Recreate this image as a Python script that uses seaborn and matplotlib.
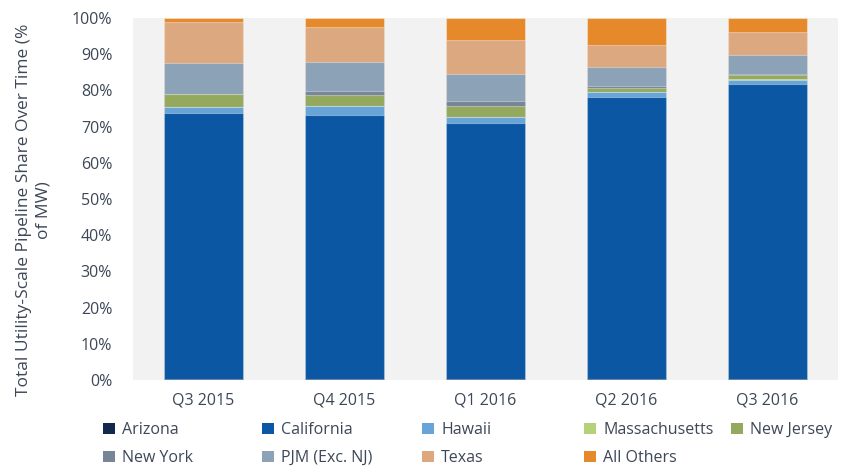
import matplotlib
matplotlib.use('Agg')
import matplotlib.pyplot as plt
import numpy as np
import pandas as pd
import seaborn as sns
from matplotlib.patches import Patch
from matplotlib.ticker import FuncFormatter

quarters = ['Q3 2015', 'Q4 2015', 'Q1 2016', 'Q2 2016', 'Q3 2016']
states = ['Arizona', 'California', 'Hawaii', 'Massachusetts', 'New Jersey',
          'New York', 'PJM (Exc. NJ)', 'Texas', 'All Others']

# share of MW per quarter, percent
arizona = [0.3, 0.3, 0.3, 0.3, 0.3]
california = [73.5, 72.9, 70.6, 78.0, 81.5]
hawaii = [1.6, 2.4, 1.8, 1.3, 1.1]
massachusetts = [0.0, 0.0, 0.0, 0.1, 0.2]
new_jersey = [3.7, 3.0, 3.1, 1.1, 1.1]
new_york = [0.0, 1.2, 1.2, 0.5, 0.3]
pjm = [8.5, 8.1, 7.4, 5.1, 5.3]
texas = [11.3, 9.6, 9.5, 6.1, 6.3]
all_others = [1.1, 2.5, 6.1, 7.5, 3.9]

colors = ['#13294b', '#0b57a4', '#68a4d8', '#b5d27a', '#95a95e',
          '#778696', '#8ca2b7', '#dca880', '#e5892a']
text_color = '#3d4757'

series = [arizona, california, hawaii, massachusetts, new_jersey,
          new_york, pjm, texas, all_others]
df = pd.DataFrame(dict(zip(states, series)), index=quarters)
cumulative = df.cumsum(axis=1)

sns.set_theme(style='white')
plt.rcParams['font.family'] = ['Open Sans', 'DejaVu Sans']

fig = plt.figure(figsize=(8.44, 4.68), dpi=100)
ax = fig.add_axes([0.1576, 0.188, 0.8354, 0.7735])
ax.set_facecolor('#f2f2f2')

# draw cumulative totals from the top down so each segment sits on the previous
for state, color in reversed(list(zip(states, colors))):
    sns.barplot(x=quarters, y=cumulative[state].values, color=color, width=0.56,
                edgecolor=(1, 1, 1, 0.35), linewidth=0.8, ax=ax, saturation=1)

ax.set_ylim(0, 100)
ax.set_xlim(-0.5, 4.5)
ax.set_yticks(np.arange(0, 101, 10))
ax.yaxis.set_major_formatter(FuncFormatter(lambda v, _: f'{v:.0f}%'))
ax.tick_params(axis='both', length=0, labelsize=11.5, colors=text_color)
ax.tick_params(axis='y', pad=15)
ax.tick_params(axis='x', pad=9)
for spine in ax.spines.values():
    spine.set_visible(False)

ax.set_ylabel('Total Utility-Scale Pipeline Share Over Time (%\nof MW)',
              fontsize=12.5, color=text_color, linespacing=1.3)
ax.yaxis.set_label_coords(-0.115, 0.47)

handles = [Patch(facecolor=c, edgecolor='none') for c in colors]
col_x = [103, 262, 422, 584, 731]
for i, x in enumerate(col_x):
    idx = [j for j in (i, i + 5) if j < len(states)]
    fig.legend([handles[j] for j in idx], [states[j] for j in idx],
               loc='upper left', bbox_to_anchor=(x / 844, 1 - 422 / 468),
               frameon=False, fontsize=11.5, labelcolor=text_color,
               handlelength=0.75, handleheight=0.75, handletextpad=0.45,
               labelspacing=0.75, borderaxespad=0, borderpad=0)

fig.savefig('out.png', dpi=100)
